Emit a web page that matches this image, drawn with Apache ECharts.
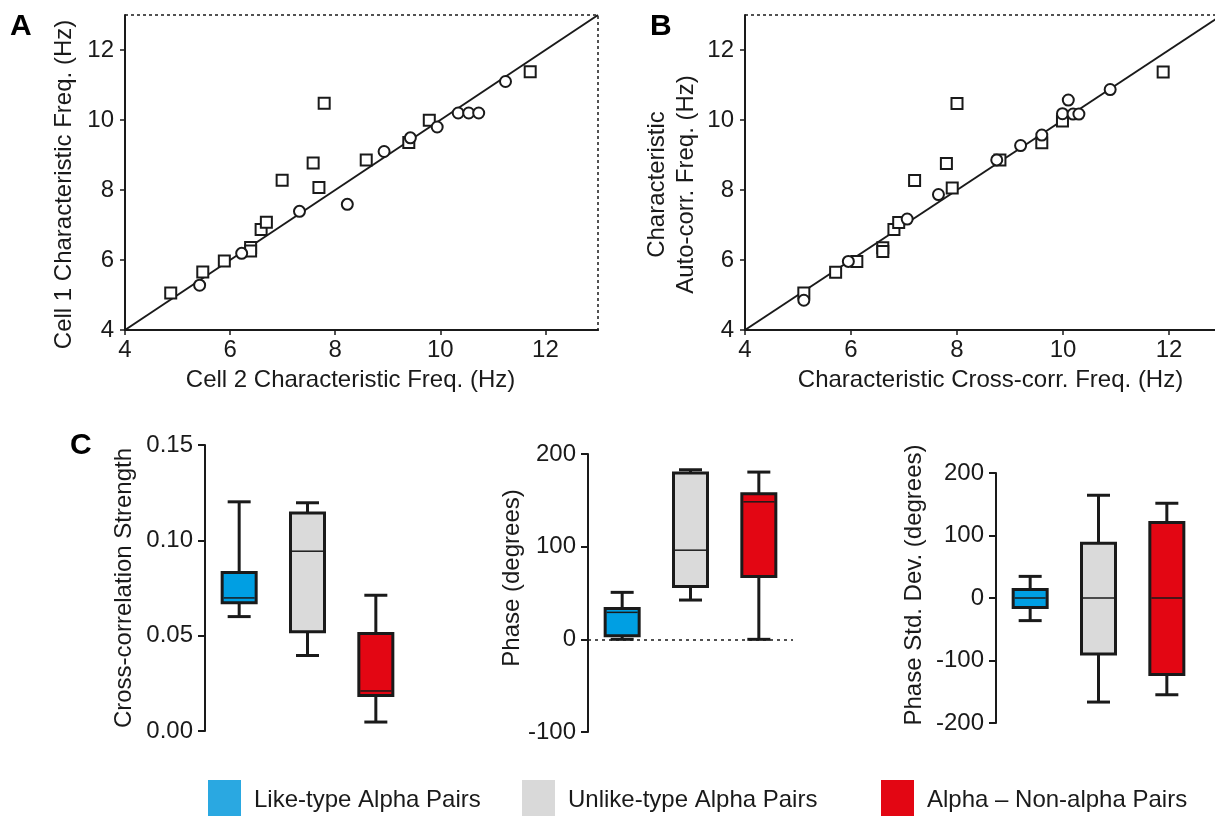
<!DOCTYPE html>
<html>
<head>
<meta charset="utf-8">
<script src="https://cdn.jsdelivr.net/npm/echarts@6/dist/echarts.min.js"></script>
<style>
html, body { margin: 0; padding: 0; background: #fff; }
#chart { width: 1215px; height: 816px; }
</style>
</head>
<body>
<div id="chart"></div>
<script>
"use strict";

/*-----data-----*/
var groups = ['Like-type Alpha Pairs', 'Unlike-type Alpha Pairs', 'Alpha \u2013 Non-alpha Pairs'];
var freqTicks = [4, 6, 8, 10, 12];

// panel A : cell 2 (x) vs cell 1 (y)
var cell2Squares = [4.87, 5.48, 5.89, 6.39, 6.39, 6.59, 6.69, 6.99, 7.58, 7.69, 7.79, 8.59, 9.40, 9.79, 11.71];
var cell1Squares = [5.06, 5.66, 5.97, 6.36, 6.26, 6.87, 7.08, 8.28, 8.77, 8.07, 10.48, 8.86, 9.36, 9.99, 11.38];
var cell2Circles = [5.42, 6.22, 7.32, 8.23, 8.93, 9.43, 9.94, 10.34, 10.54, 10.73, 11.24];
var cell1Circles = [5.28, 6.19, 7.39, 7.59, 9.10, 9.49, 9.80, 10.20, 10.20, 10.20, 11.10];

// panel B : cross-corr (x) vs auto-corr (y)
var crossSquares = [5.11, 5.71, 6.11, 6.60, 6.60, 6.81, 6.90, 7.20, 7.80, 7.91, 8.00, 8.81, 9.60, 9.99, 11.89];
var autoSquares = [5.06, 5.65, 5.96, 6.35, 6.24, 6.87, 7.07, 8.27, 8.76, 8.06, 10.47, 8.86, 9.35, 9.97, 11.37];
var crossCircles = [5.11, 5.95, 7.06, 7.65, 8.75, 9.20, 9.60, 9.99, 10.10, 10.19, 10.30, 10.89];
var autoCircles = [4.85, 5.96, 7.17, 7.87, 8.86, 9.27, 9.57, 10.18, 10.57, 10.17, 10.17, 10.87];

var unityLine = [4, 13];

// panel C : [min, q1, median, q3, max] per group
var strengthStats = [
	[0.060, 0.0672, 0.0698, 0.0831, 0.1202],
	[0.0396, 0.052, 0.0943, 0.1143, 0.1197],
	[0.0047, 0.0186, 0.021, 0.0511, 0.0712]
];
var phaseStats = [
	[0, 3.8, 29.1, 33.4, 50.7],
	[42.4, 56.9, 96.2, 179.4, 183],
	[0, 67.7, 148.4, 157.1, 180.5]
];
var phaseSdStats = [
	[-36.2, -15, 0, 13.8, 34.6],
	[-166.5, -89.4, 0, 87.8, 164.4],
	[-154.8, -122.3, 0, 120.7, 151.6]
];

/*-----styles-----*/
var ink = '#1a1a1a';
var font = "'Liberation Sans', Arial, sans-serif";
var boxColors = ['#009fe3', '#dadada', '#e30613'];
var legendColors = ['#2aa8e1', '#d9d9d9', '#e30613'];

function pairs(xs, ys) {
	return xs.map(function (x, i) { return [x, ys[i]]; });
}

function freqXAxis(idx, name, pad) {
	return {
		type: 'value', gridIndex: idx, min: 4, max: 13,
		name: name, nameLocation: 'middle', nameGap: 38,
		nameTextStyle: { fontSize: 24, color: ink, fontFamily: font, padding: pad },
		axisLine: { lineStyle: { color: ink, width: 2 } },
		axisTick: { length: 5, lineStyle: { color: ink, width: 1.5 }, customValues: freqTicks },
		axisLabel: { fontSize: 24, color: ink, fontFamily: font, margin: 8, customValues: freqTicks },
		splitLine: { show: false }
	};
}

function freqYAxis(idx, name, gap, pad) {
	return {
		type: 'value', gridIndex: idx, min: 4, max: 13,
		name: name, nameLocation: 'middle', nameGap: gap,
		nameTextStyle: { fontSize: 24, color: ink, fontFamily: font, lineHeight: 29, padding: pad },
		axisLine: { lineStyle: { color: ink, width: 2 } },
		axisTick: { length: 5, lineStyle: { color: ink, width: 1.5 }, customValues: freqTicks },
		axisLabel: { fontSize: 24, color: ink, fontFamily: font, margin: 11, customValues: freqTicks },
		splitLine: { show: false }
	};
}

function boxXAxis(idx) {
	return { type: 'category', gridIndex: idx, data: groups, show: false };
}

function boxYAxis(idx, name, min, max, step, gap, pad, fmt) {
	return {
		type: 'value', gridIndex: idx, min: min, max: max, interval: step,
		name: name, nameLocation: 'middle', nameGap: gap,
		nameTextStyle: { fontSize: 24, color: ink, fontFamily: font, padding: pad },
		axisLine: { show: true, lineStyle: { color: ink, width: 2 } },
		axisTick: { show: true, length: 7, lineStyle: { color: ink, width: 2 } },
		axisLabel: { fontSize: 24, color: ink, fontFamily: font, margin: 12, formatter: fmt },
		splitLine: { show: false }
	};
}

function renderBox(params, api) {
	var x = api.value(0);
	var pMin = api.coord([x, api.value(1)]);
	var pQ1 = api.coord([x, api.value(2)]);
	var pMed = api.coord([x, api.value(3)]);
	var pQ3 = api.coord([x, api.value(4)]);
	var pMax = api.coord([x, api.value(5)]);
	var cx = pMin[0], hw = 17, cap = 11.5;
	var stroke = { stroke: ink, lineWidth: 3 };
	return {
		type: 'group',
		children: [
			{ type: 'line', shape: { x1: cx, y1: pMax[1], x2: cx, y2: pQ3[1] }, style: stroke },
			{ type: 'line', shape: { x1: cx, y1: pQ1[1], x2: cx, y2: pMin[1] }, style: stroke },
			{ type: 'line', shape: { x1: cx - cap, y1: pMax[1], x2: cx + cap, y2: pMax[1] }, style: stroke },
			{ type: 'line', shape: { x1: cx - cap, y1: pMin[1], x2: cx + cap, y2: pMin[1] }, style: stroke },
			{ type: 'rect', shape: { x: cx - hw, y: pQ3[1], width: hw * 2, height: pQ1[1] - pQ3[1] },
				style: { fill: api.visual('color'), stroke: ink, lineWidth: 3 } },
			{ type: 'line', shape: { x1: cx - hw + 1.5, y1: pMed[1], x2: cx + hw - 1.5, y2: pMed[1] },
				style: { stroke: ink, lineWidth: 1.5 } }
		]
	};
}

function boxSeries(axisIdx, stats) {
	return stats.map(function (s, g) {
		return {
			type: 'custom', name: groups[g],
			xAxisIndex: axisIdx, yAxisIndex: axisIdx,
			itemStyle: { color: boxColors[g] },
			renderItem: renderBox,
			encode: { x: 0, y: [1, 2, 3, 4, 5] },
			data: [[g].concat(s)]
		};
	});
}

function scatterSeries(idx, pts, symbol, size) {
	return {
		type: 'scatter', xAxisIndex: idx, yAxisIndex: idx,
		symbol: symbol, symbolSize: size,
		itemStyle: { color: '#fff', borderColor: ink, borderWidth: 2, opacity: 1 },
		data: pts, z: 3
	};
}

function unitySeries(idx) {
	return {
		type: 'line', xAxisIndex: idx, yAxisIndex: idx,
		showSymbol: false, symbol: 'none',
		lineStyle: { color: ink, width: 2 },
		data: pairs(unityLine, unityLine), z: 2
	};
}

function legendFor(g, left) {
	return {
		left: left, top: 780, orient: 'horizontal', padding: 0,
		icon: 'rect', itemWidth: 33, itemHeight: 40,
		selectedMode: false,
		textStyle: { fontSize: 24, color: ink, fontFamily: font, padding: [0, 0, 0, 8] },
		data: [{ name: groups[g], itemStyle: { color: legendColors[g] } }]
	};
}

var dottedBorder = { show: true, borderColor: ink, borderWidth: 1.5, borderType: [3, 3], backgroundColor: 'transparent' };

var chart = echarts.init(document.getElementById('chart'));
var option = {
	backgroundColor: '#fff',
	animation: false,
	textStyle: { fontFamily: font },
	grid: [
		Object.assign({ left: 125, top: 15, width: 473, height: 315, outerBoundsMode: 'none' }, dottedBorder),
		Object.assign({ left: 745, top: 15, width: 477, height: 315, outerBoundsMode: 'none' }, dottedBorder),
		{ left: 205, top: 445, width: 205, height: 286, outerBoundsMode: 'none' },
		{ left: 588, top: 454, width: 205, height: 278, outerBoundsMode: 'none' },
		{ left: 996, top: 473, width: 205, height: 250, outerBoundsMode: 'none' }
	],
	xAxis: [
		freqXAxis(0, 'Cell 2 Characteristic Freq. (Hz)', [0, 22, 0, 0]),
		freqXAxis(1, 'Characteristic Cross-corr. Freq. (Hz)', [0, 0, 0, 14]),
		boxXAxis(2),
		boxXAxis(3),
		boxXAxis(4)
	],
	yAxis: [
		freqYAxis(0, 'Cell 1 Characteristic Freq. (Hz)', 46, [0, 24, 0, 0]),
		freqYAxis(1, 'Characteristic\nAuto-corr. Freq. (Hz)', 44, [0, 24, 0, 0]),
		boxYAxis(2, 'Cross-correlation Strength', 0, 0.15, 0.05, 69, [0, 0, 0, 0],
			function (v) { return v.toFixed(2); }),
		boxYAxis(3, 'Phase (degrees)', -100, 200, 100, 64, [0, 0, 0, 30], null),
		boxYAxis(4, 'Phase Std. Dev. (degrees)', -200, 200, 100, 70, [0, 0, 0, 26], null)
	],
	legend: [legendFor(0, 208), legendFor(1, 522), legendFor(2, 881)],
	graphic: [
		{ type: 'text', left: 10, top: 12, style: { text: 'A', font: "bold 30px 'Liberation Sans', Arial", fill: '#000' } },
		{ type: 'text', left: 650, top: 12, style: { text: 'B', font: "bold 30px 'Liberation Sans', Arial", fill: '#000' } },
		{ type: 'text', left: 70, top: 431, style: { text: 'C', font: "bold 30px 'Liberation Sans', Arial", fill: '#000' } }
	],
	series: [
		unitySeries(0),
		scatterSeries(0, pairs(cell2Squares, cell1Squares), 'rect', 11),
		scatterSeries(0, pairs(cell2Circles, cell1Circles), 'circle', 11),
		unitySeries(1),
		scatterSeries(1, pairs(crossSquares, autoSquares), 'rect', 11),
		scatterSeries(1, pairs(crossCircles, autoCircles), 'circle', 11)
	]
		.concat(boxSeries(2, strengthStats))
		.concat(boxSeries(3, phaseStats))
		.concat(boxSeries(4, phaseSdStats))
};

// dotted zero line in the phase panel
option.series.push({
	type: 'line', xAxisIndex: 3, yAxisIndex: 3, data: [],
	markLine: {
		silent: true, symbol: 'none', label: { show: false },
		lineStyle: { color: ink, type: [3, 4], width: 1.5 },
		data: [{ yAxis: 0 }]
	}
});

chart.setOption(option);
window.addEventListener('resize', function () {
	chart.resize();
});
</script>
</body>
</html>
